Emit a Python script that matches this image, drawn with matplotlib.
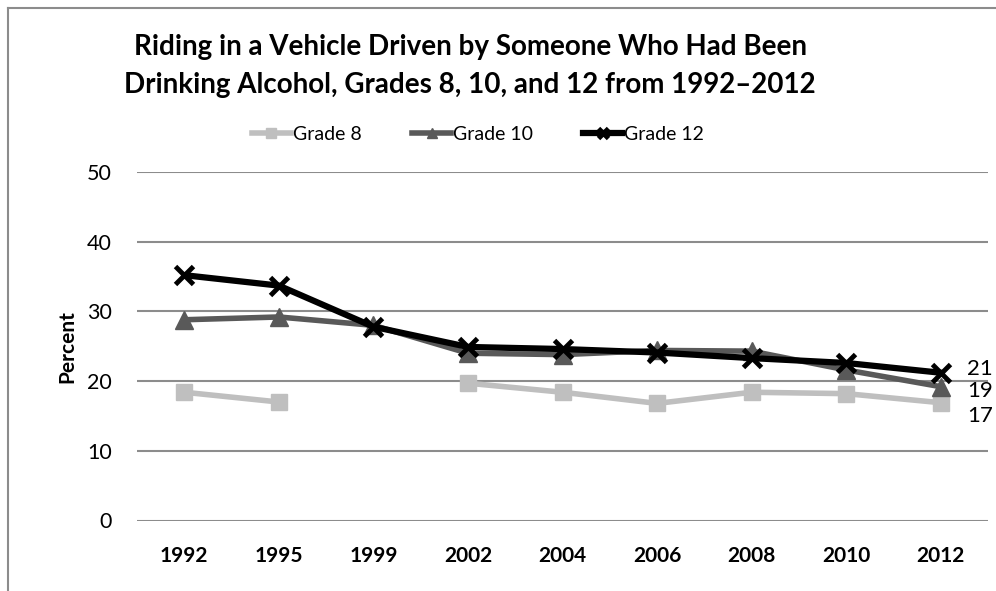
import numpy as np
import matplotlib.pyplot as plt
from matplotlib.lines import Line2D

years = ["1992", "1995", "1999", "2002", "2004", "2006", "2008", "2010", "2012"]
grade8 = [18.4, 17.0, np.nan, 19.7, 18.4, 16.8, 18.4, 18.2, 16.9]
grade10 = [28.8, 29.2, 28.0, 24.0, 23.8, 24.4, 24.3, 21.6, 19.2]
grade12 = [35.2, 33.7, 27.8, 24.9, 24.6, 24.1, 23.3, 22.6, 21.2]
end_labels = ["21", "19", "17"]
title_lines = ["Riding in a Vehicle Driven by Someone Who Had Been",
               "Drinking Alcohol, Grades 8, 10, and 12 from 1992\u20132012"]

FONT = "Lato"

fig = plt.figure(figsize=(9.96, 5.91), dpi=100)
ax = fig.add_axes([137 / 996, 1 - 520.5 / 591, (988 - 137) / 996, (520.5 - 172) / 591])

x = np.arange(len(years))
ax.plot(x, grade8, color="#BFBFBF", lw=4, marker="s", ms=11, label="Grade 8", zorder=3)
ax.plot(x, grade10, color="#595959", lw=4, marker="^", ms=13, label="Grade 10", zorder=4)
ax.plot(x, grade12, color="black", lw=4.5, marker="x", ms=13, mew=3.5, label="Grade 12", zorder=5)

ax.set_xlim(-0.5, len(years) - 0.5)
ax.set_ylim(0, 50)
ax.set_yticks(range(0, 51, 10))
ax.set_yticklabels([str(v) for v in range(0, 51, 10)], fontfamily=FONT, fontsize=15.5)
ax.set_xticks(x)
ax.set_xticklabels(years, fontfamily=FONT, fontweight="bold", fontsize=15)
ax.tick_params(axis="y", length=0, pad=18)
ax.tick_params(axis="x", length=0, pad=18)
for s in ax.spines.values():
    s.set_visible(False)
ax.yaxis.grid(True, color="#8C8C8C", lw=1.5)
ax.set_axisbelow(True)

ax.set_ylabel("Percent", fontfamily=FONT, fontweight="bold", fontsize=15, labelpad=7)

# end-of-line value labels
label_y = [grade12[-1] + 0.5, grade10[-1] - 0.6, grade8[-1] - 1.9]
for yy, lab in zip(label_y, end_labels):
    ax.text(len(years) - 1 + 0.28, yy, lab, fontfamily=FONT, fontsize=16,
            ha="left", va="center", clip_on=False)

for yy, line in zip([1 - 47 / 591, 1 - 85 / 591], title_lines):
    fig.text(0.472, yy, line, ha="center", va="center", fontfamily=FONT,
             fontweight="bold", fontsize=20)

leg = fig.legend(loc="center", bbox_to_anchor=(0.48, 0.772), ncol=3, frameon=False,
                 prop={"family": FONT, "size": 14}, handlelength=2.0,
                 columnspacing=2.6, handletextpad=0.1, markerscale=0.6)

# outer frame (left and top edges)
fig.add_artist(Line2D([8 / 996, 8 / 996], [0, 1 - 8 / 591], transform=fig.transFigure, color="#8C8C8C", lw=1.5))
fig.add_artist(Line2D([8 / 996, 1], [1 - 8 / 591, 1 - 8 / 591], transform=fig.transFigure, color="#8C8C8C", lw=1.5))

fig.savefig("out.png", dpi=100)
